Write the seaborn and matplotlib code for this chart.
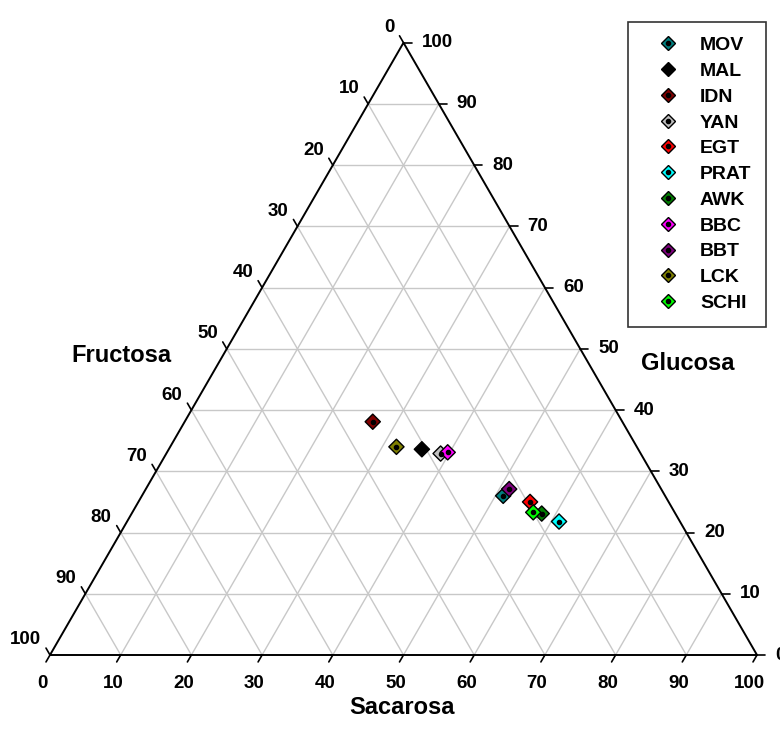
import numpy as np
import pandas as pd
import matplotlib
matplotlib.use('Agg')
import matplotlib.pyplot as plt
from matplotlib.lines import Line2D
import seaborn as sns

# muestras y composicion (%)
muestras = ['MOV', 'MAL', 'IDN', 'YAN', 'EGT', 'PRAT', 'AWK', 'BBC', 'BBT', 'LCK', 'SCHI']
sacarosa = [51.1, 35.8, 26.6, 38.8, 55.4, 61.1, 58.0, 39.7, 51.4, 32.0, 56.7]
glucosa = [26.0, 33.6, 38.1, 32.9, 25.0, 21.8, 23.1, 33.1, 27.1, 34.0, 23.3]
fructosa = [100 - s - g for s, g in zip(sacarosa, glucosa)]
colores = ['#008080', '#000000', '#800000', '#c0c0c0', '#ff0000', '#00ffff',
           '#008000', '#ff00ff', '#800080', '#808000', '#00ff00']
ticks = list(range(0, 101, 10))

H = np.sqrt(3) / 2


def to_xy(s, g):
    # ternary -> cartesian (sacarosa abajo, glucosa a la derecha)
    return np.asarray(s) + np.asarray(g) / 2, np.asarray(g) * H


df = pd.DataFrame({'muestra': muestras, 'sacarosa': sacarosa,
                   'glucosa': glucosa, 'fructosa': fructosa})
df['x'], df['y'] = to_xy(df['sacarosa'], df['glucosa'])
palette = dict(zip(muestras, colores))

sns.set_style('white')
plt.rcParams['font.family'] = ['Liberation Sans', 'DejaVu Sans']
plt.rcParams['font.weight'] = 'bold'
plt.rcParams['text.color'] = 'black'

K = 7.07  # px per unit
fig = plt.figure(figsize=(7.8, 7.34), dpi=100)
ax = fig.add_axes([0, 0, 1, 1])
ax.set_xlim(-50 / K, (780 - 50) / K)
ax.set_ylim(-(734 - 655) / K, 655 / K)
ax.axis('off')

# grid
for i in ticks[1:-1]:
    x, y = to_xy([0, 100 - i], [i, i])
    ax.plot(x, y, color='#c8c8c8', lw=1, zorder=1)
    x, y = to_xy([i, i], [0, 100 - i])
    ax.plot(x, y, color='#c8c8c8', lw=1, zorder=1)
    x, y = to_xy([100 - i, 0], [0, 100 - i])
    ax.plot(x, y, color='#c8c8c8', lw=1, zorder=1)

# triangle
x, y = to_xy([0, 100, 0, 0], [0, 0, 100, 0])
ax.plot(x, y, color='black', lw=1.4, zorder=2)

L = 8 / K
fs_tick = 13.5
for i in ticks:
    # sacarosa (abajo)
    x, y = to_xy(i, 0)
    ax.plot([x, x - 0.5 * L], [y, y - H * L], color='black', lw=1.2)
    ax.text(x - 1.1, y - 4.0, str(i), ha='center', va='center', fontsize=fs_tick, fontweight='bold')
    # glucosa (derecha)
    x, y = to_xy(100 - i, i)
    ax.plot([x, x + L], [y, y], color='black', lw=1.2)
    ax.text(x + 18 / K, y, str(i), ha='left', va='center', fontsize=fs_tick, fontweight='bold')
    # fructosa (izquierda)
    x, y = to_xy(0, 100 - i)
    ax.plot([x, x - 0.5 * L], [y, y + H * L], color='black', lw=1.2)
    ax.text(x - 9 / K, y + 15 / K, str(i), ha='right', va='center', fontsize=fs_tick, fontweight='bold')

ax.text((402 - 50) / K, (655 - 708) / K, 'Sacarosa', ha='center', va='center', fontsize=17, fontweight='bold')
ax.text((688 - 50) / K, (655 - 364) / K, 'Glucosa', ha='center', va='center', fontsize=17, fontweight='bold')
ax.text((121 - 50) / K, (655 - 355) / K, 'Fructosa', ha='center', va='center', fontsize=17, fontweight='bold')

sns.scatterplot(data=df, x='x', y='y', hue='muestra', palette=palette, marker='D',
                s=60, edgecolor='black', linewidth=1, legend=False, ax=ax, zorder=3)
for _, r in df.iterrows():
    ax.scatter(r['x'], r['y'], s=9, color='black', zorder=4)

handles = []
for m, c in zip(muestras, colores):
    d = Line2D([], [], marker='D', ls='', markerfacecolor=c, markeredgecolor='black',
               markeredgewidth=1, markersize=7.5)
    p = Line2D([], [], marker='o', ls='', color='black', markersize=3)
    handles.append((d, p))
leg = ax.legend(handles, muestras, loc='upper left', bbox_to_anchor=(628 / 780, 1 - 22 / 734),
                bbox_transform=fig.transFigure, frameon=True, fancybox=False, edgecolor='black',
                fontsize=14, labelspacing=0.42, borderpad=0.75, handlelength=2.6,
                handletextpad=0.35, borderaxespad=0)
leg.get_frame().set_linewidth(1.2)
for t in leg.get_texts():
    t.set_fontweight('bold')
    t.set_color('black')

fig.savefig('out.png', dpi=100)
